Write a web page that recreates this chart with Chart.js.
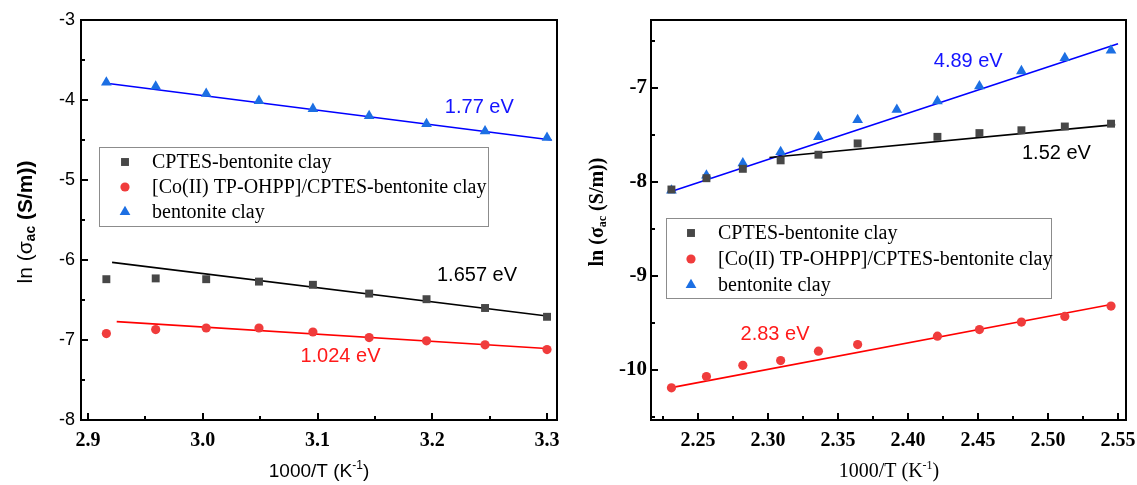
<!DOCTYPE html>
<html>
<head>
<meta charset="utf-8">
<script src="https://cdn.jsdelivr.net/npm/chart.js@4.4.0/dist/chart.umd.min.js"></script>
<style>
  html, body { margin: 0; padding: 0; background: #fff; }
  #wrap { position: relative; width: 1137px; height: 485px; }
  canvas { position: absolute; top: 0; }
</style>
</head>
<body>
<div id="wrap">
  <canvas id="leftChart" width="570" height="485" style="left:0"></canvas>
  <canvas id="rightChart" width="567" height="485" style="left:570px"></canvas>
</div>
<script>
// ---- left panel data (1000/T vs ln sigma_ac) ----
const leftX = [2.916, 2.959, 3.003, 3.049, 3.096, 3.145, 3.195, 3.246, 3.300];
const leftCptes = [-6.24, -6.23, -6.24, -6.27, -6.31, -6.42, -6.49, -6.60, -6.71];
const leftCo = [-6.92, -6.87, -6.85, -6.85, -6.90, -6.97, -7.01, -7.06, -7.12];
const leftBent = [-3.78, -3.83, -3.92, -4.01, -4.11, -4.20, -4.30, -4.39, -4.47];
// fitted lines (end points)
const leftCptesFitX = [2.921, 3.300];
const leftCptesFitY = [-6.03, -6.70];
const leftCoFitX = [2.925, 3.303];
const leftCoFitY = [-6.77, -7.11];
const leftBentFitX = [2.916, 3.304];
const leftBentFitY = [-3.79, -4.50];
const leftXTicks = [2.9, 3.0, 3.1, 3.2, 3.3];
const leftXMinor = [2.95, 3.05, 3.15, 3.25];
const leftYTicks = [-8, -7, -6, -5, -4, -3];
const leftYMinor = [-7.5, -6.5, -5.5, -4.5, -3.5];

// ---- right panel data ----
const rightX = [2.231, 2.256, 2.282, 2.309, 2.336, 2.364, 2.392, 2.421, 2.451, 2.481, 2.512, 2.545];
const rightCptes = [-8.08, -7.96, -7.86, -7.77, -7.71, -7.59, null, -7.52, -7.48, -7.45, -7.41, -7.38];
const rightCo = [-10.19, -10.07, -9.95, -9.90, -9.80, -9.73, null, -9.64, -9.57, -9.49, -9.43, -9.32];
const rightBent = [-8.09, -7.93, -7.80, -7.68, -7.52, -7.34, -7.23, -7.14, -6.98, -6.82, -6.68, -6.60];
const rightCptesFitX = [2.301, 2.548];
const rightCptesFitY = [-7.74, -7.39];
const rightCoFitX = [2.230, 2.546];
const rightCoFitY = [-10.19, -9.30];
const rightBentFitX = [2.233, 2.550];
const rightBentFitY = [-8.09, -6.53];
const rightXTicks = [2.25, 2.30, 2.35, 2.40, 2.45, 2.50, 2.55];
const rightXMinor = [2.225, 2.275, 2.325, 2.375, 2.425, 2.475, 2.525];
const rightYTicks = [-10, -9, -8, -7];
const rightYMinor = [-10.5, -9.5, -8.5, -7.5, -6.5];

const seriesNames = ['CPTES-bentonite clay', '[Co(II) TP-OHPP]/CPTES-bentonite clay', 'bentonite clay'];

const SANS = '"Liberation Sans", Arial, sans-serif';
const SERIF = '"Liberation Serif", "Times New Roman", serif';

function zip(xs, ys) {
    const out = [];
    xs.forEach((x, i) => { if (ys[i] !== null) out.push({ x: x, y: ys[i] }); });
    return out;
}

function pointSet(label, xs, ys, style, color, radius) {
    return {
        type: 'scatter', label: label, data: zip(xs, ys), showLine: false,
        pointStyle: style, pointRadius: radius, pointHoverRadius: radius,
        backgroundColor: color, borderColor: color, borderWidth: 0, order: 1
    };
}

function fitSet(xs, ys, color) {
    return {
        type: 'line', label: '', data: zip(xs, ys), showLine: true, fill: false,
        borderColor: color, borderWidth: 1.6, pointRadius: 0, tension: 0, order: 2
    };
}

// draws a run of text pieces with their own font / vertical shift
function drawRich(ctx, parts, cx, cy, rotate) {
    ctx.save();
    ctx.translate(cx, cy);
    if (rotate) ctx.rotate(-Math.PI / 2);
    let total = 0;
    parts.forEach(p => { ctx.font = p.font; total += ctx.measureText(p.text).width; });
    let x = -total / 2;
    ctx.textBaseline = 'middle';
    ctx.textAlign = 'left';
    ctx.fillStyle = '#000';
    parts.forEach(p => {
        ctx.font = p.font;
        ctx.fillText(p.text, x, p.dy || 0);
        x += ctx.measureText(p.text).width;
    });
    ctx.restore();
}

const panelDecor = {
    id: 'panelDecor',
    afterDraw(chart, args, o) {
        const { ctx, chartArea: a } = chart;
        const xs = chart.scales.x, ys = chart.scales.y;
        ctx.save();
        ctx.strokeStyle = '#000';
        ctx.lineWidth = 2;
        ctx.beginPath();
        const tickX = (vals, len) => vals.forEach(v => {
            const px = Math.round(xs.getPixelForValue(v));
            ctx.moveTo(px, a.bottom); ctx.lineTo(px, a.bottom - len);
        });
        const tickY = (vals, len) => vals.forEach(v => {
            const py = Math.round(ys.getPixelForValue(v));
            ctx.moveTo(a.left, py); ctx.lineTo(a.left + len, py);
        });
        tickX(o.xMajor, 7); tickX(o.xMinor, 4);
        tickY(o.yMajor, 7); tickY(o.yMinor, 4);
        ctx.stroke();
        ctx.strokeRect(a.left, a.top, a.right - a.left, a.bottom - a.top);

        // legend
        const lg = o.legend;
        ctx.lineWidth = 1;
        ctx.strokeStyle = '#8c8c8c';
        ctx.strokeRect(lg.x0 + 0.5, lg.y0 + 0.5, lg.x1 - lg.x0, lg.y1 - lg.y0);
        ctx.font = '20px ' + SERIF;
        ctx.textBaseline = 'middle';
        ctx.textAlign = 'left';
        for (let i = 0; i < 3; i++) {
            const ds = chart.data.datasets[i];
            const yy = lg.rows[i];
            ctx.fillStyle = ds.backgroundColor;
            ctx.strokeStyle = ds.borderColor;
            Chart.helpers.drawPoint(ctx, { pointStyle: ds.pointStyle, radius: ds.pointRadius, rotation: 0, borderWidth: 0 }, lg.markerX, yy);
            ctx.fillStyle = '#000';
            ctx.fillText(ds.label, lg.textX, yy + 1);
        }

        // activation energy labels
        ctx.font = '20px ' + SANS;
        ctx.textAlign = 'center';
        o.notes.forEach(n => {
            ctx.fillStyle = n.color;
            ctx.fillText(n.text, xs.getPixelForValue(n.x), ys.getPixelForValue(n.y));
        });
        ctx.restore();

        drawRich(ctx, o.yTitle, o.yTitlePos[0], o.yTitlePos[1], true);
        drawRich(ctx, o.xTitle, o.xTitlePos[0], o.xTitlePos[1], false);
    }
};

function makeChart(id, cfg) {
    const fixTicks = vals => (s => { s.ticks = vals.map(v => ({ value: v })); });
    return new Chart(document.getElementById(id), {
        data: { datasets: cfg.datasets },
        options: {
            responsive: false,
            animation: false,
            layout: { padding: { left: 0, top: 20, right: cfg.padRight, bottom: 0 } },
            plugins: { legend: { display: false }, tooltip: { enabled: false }, panelDecor: cfg.decor },
            scales: {
                x: {
                    type: 'linear', min: cfg.xMin, max: cfg.xMax,
                    grid: { display: false, drawTicks: false }, border: { display: false },
                    afterBuildTicks: fixTicks(cfg.xTicks),
                    ticks: {
                        padding: 9, color: '#000', maxRotation: 0, autoSkip: false,
                        font: { family: SERIF, size: 20, weight: 'bold' },
                        callback: v => v.toFixed(cfg.xDigits)
                    },
                    afterFit: s => { s.height = 65; s.paddingLeft = 0; s.paddingRight = 0; }
                },
                y: {
                    type: 'linear', min: cfg.yMin, max: cfg.yMax,
                    grid: { display: false, drawTicks: false }, border: { display: false },
                    afterBuildTicks: fixTicks(cfg.yTicks),
                    ticks: { padding: cfg.yPad, color: '#000', autoSkip: false, font: cfg.yFont, callback: v => String(v) },
                    afterFit: s => { s.width = 81; s.paddingTop = 0; s.paddingBottom = 0; }
                }
            }
        },
        plugins: [panelDecor]
    });
}

const SQ = '#474747', RED = '#f03c3c', BLUE = '#1c6fe3';

makeChart('leftChart', {
    padRight: 13, xMin: 2.8939, xMax: 3.3087, yMin: -8, yMax: -3, xDigits: 1,
    xTicks: leftXTicks, yTicks: leftYTicks, yPad: 6,
    yFont: { family: SANS, size: 18 },
    datasets: [
        pointSet(seriesNames[0], leftX, leftCptes, 'rect', SQ, 5.6),
        pointSet(seriesNames[1], leftX, leftCo, 'circle', RED, 4.6),
        pointSet(seriesNames[2], leftX, leftBent, 'triangle', BLUE, 6.2),
        fitSet(leftCptesFitX, leftCptesFitY, '#000'),
        fitSet(leftCoFitX, leftCoFitY, '#ff0000'),
        fitSet(leftBentFitX, leftBentFitY, '#0000ff')
    ],
    decor: {
        xMajor: leftXTicks, xMinor: leftXMinor, yMajor: leftYTicks, yMinor: leftYMinor,
        legend: { x0: 99, y0: 147, x1: 488, y1: 226, rows: [162, 187, 212], markerX: 125, textX: 152 },
        notes: [
            { text: '1.77 eV', x: 3.241, y: -4.09, color: '#1414ff' },
            { text: '1.657 eV', x: 3.239, y: -6.19, color: '#000' },
            { text: '1.024 eV', x: 3.120, y: -7.20, color: '#ff1a1a' }
        ],
        yTitle: [
            { text: 'ln (', font: '21px ' + SANS },
            { text: 'σ', font: '21px ' + SANS },
            { text: 'ac', font: 'bold 14px ' + SANS, dy: 5 },
            { text: ' (S/m))', font: 'bold 21px ' + SANS }
        ],
        yTitlePos: [26, 222],
        xTitle: [
            { text: '1000/T (K', font: '19px ' + SANS },
            { text: '-1', font: '12px ' + SANS, dy: -6 },
            { text: ')', font: '19px ' + SANS }
        ],
        xTitlePos: [319, 472]
    }
});

makeChart('rightChart', {
    padRight: 11, xMin: 2.2164, xMax: 2.5557, yMin: -10.532, yMax: -6.277, xDigits: 2,
    xTicks: rightXTicks, yTicks: rightYTicks, yPad: 4,
    yFont: { family: SERIF, size: 21, weight: 'bold' },
    datasets: [
        pointSet(seriesNames[0], rightX, rightCptes, 'rect', SQ, 5.6),
        pointSet(seriesNames[1], rightX, rightCo, 'circle', RED, 4.6),
        pointSet(seriesNames[2], rightX, rightBent, 'triangle', BLUE, 6.2),
        fitSet(rightCptesFitX, rightCptesFitY, '#000'),
        fitSet(rightCoFitX, rightCoFitY, '#ff0000'),
        fitSet(rightBentFitX, rightBentFitY, '#0000ff')
    ],
    decor: {
        xMajor: rightXTicks, xMinor: rightXMinor, yMajor: rightYTicks, yMinor: rightYMinor,
        legend: { x0: 96, y0: 218, x1: 481, y1: 298, rows: [233, 259, 285], markerX: 121, textX: 148 },
        notes: [
            { text: '4.89 eV', x: 2.443, y: -6.72, color: '#1414ff' },
            { text: '1.52 eV', x: 2.506, y: -7.70, color: '#000' },
            { text: '2.83 eV', x: 2.305, y: -9.62, color: '#ff1a1a' }
        ],
        yTitle: [
            { text: 'ln (σ', font: 'bold 20px ' + SERIF },
            { text: 'ac', font: 'bold 12px ' + SERIF, dy: 5 },
            { text: ' (S/m))', font: 'bold 20px ' + SERIF }
        ],
        yTitlePos: [28, 212],
        xTitle: [
            { text: '1000/T (K', font: '20px ' + SERIF },
            { text: '-1', font: '12px ' + SERIF, dy: -6 },
            { text: ')', font: '20px ' + SERIF }
        ],
        xTitlePos: [319, 472]
    }
});
</script>
</body>
</html>
